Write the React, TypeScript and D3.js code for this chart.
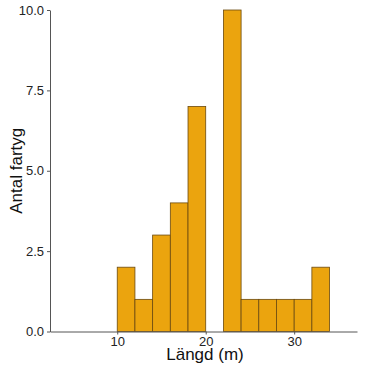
import React from "react";
import * as d3 from "d3";

const binStarts = [10, 12, 14, 16, 18, 20, 22, 24, 26, 28, 30, 32];
const counts = [2, 1, 3, 4, 7, 0, 10, 1, 1, 1, 1, 2];
const binWidth = 2;
const xTicks = [10, 20, 30];
const yTicks = [0, 2.5, 5, 7.5, 10];

const App = () => {
  const svgRef = React.useRef(null);
  const width = 367;
  const height = 367;

  React.useEffect(() => {
    const svg = d3.select(svgRef.current);
    svg.selectAll("*").remove();

    const x = d3.scaleLinear().domain([2.4, 37.1]).range([50, 357]);
    const y = d3.scaleLinear().domain([0, 10]).range([331.5, 10]);

    svg
      .append("g")
      .selectAll("rect")
      .data(binStarts.map((s, i) => ({ s, c: counts[i] })).filter((d) => d.c > 0))
      .join("rect")
      .attr("x", (d) => x(d.s))
      .attr("y", (d) => y(d.c))
      .attr("width", (d) => x(d.s + binWidth) - x(d.s))
      .attr("height", (d) => y(0) - y(d.c))
      .attr("fill", "#EBA40E")
      .attr("stroke", "#6b4a10")
      .attr("stroke-width", 0.8);

    const xAxis = svg
      .append("g")
      .attr("transform", `translate(0,${y(0)})`)
      .call(d3.axisBottom(x).tickValues(xTicks).tickSize(3).tickSizeOuter(0));
    const yAxis = svg
      .append("g")
      .attr("transform", `translate(${x.range()[0]},0)`)
      .call(
        d3
          .axisLeft(y)
          .tickValues(yTicks)
          .tickFormat(d3.format(".1f"))
          .tickSize(3)
          .tickSizeOuter(0)
      );
    [xAxis, yAxis].forEach((g) => {
      g.selectAll("path, line").attr("stroke", "#555");
      g.selectAll("text")
        .attr("fill", "#222")
        .style("font-size", "13px")
        .style("font-family", "Liberation Sans, Arial, sans-serif");
    });
    xAxis.selectAll("text").attr("dy", "0.65em");

    svg
      .append("text")
      .attr("x", 205)
      .attr("y", 360)
      .attr("text-anchor", "middle")
      .style("font-size", "17px")
      .style("font-family", "Liberation Sans, Arial, sans-serif")
      .attr("fill", "#111")
      .text("Längd (m)");

    svg
      .append("text")
      .attr("transform", `translate(22,${(y(0) + y(10)) / 2}) rotate(-90)`)
      .attr("text-anchor", "middle")
      .style("font-size", "17px")
      .style("font-family", "Liberation Sans, Arial, sans-serif")
      .attr("fill", "#111")
      .text("Antal fartyg");
  }, []);

  return (
    <svg
      ref={svgRef}
      width={width}
      height={height}
      style={{ position: "absolute", left: 0, top: 0, background: "#fff" }}
    />
  );
};

export default App;
